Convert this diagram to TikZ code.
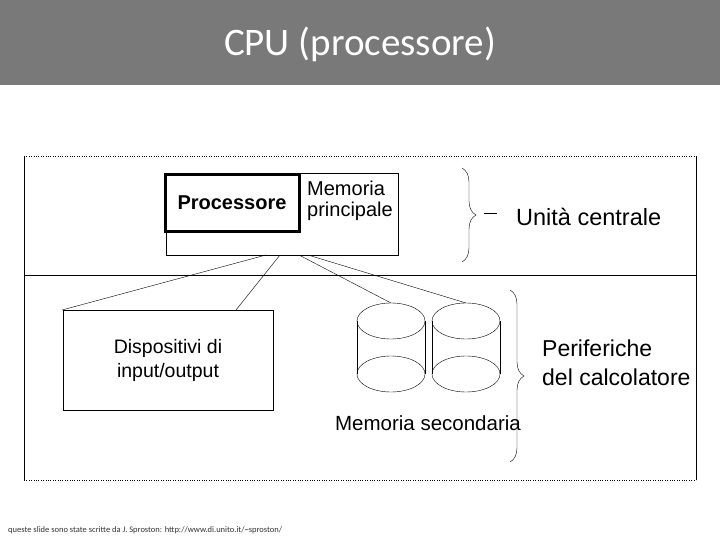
\documentclass[tikz,border=0pt]{standalone}
\usepackage{fontspec}
\setmainfont{Liberation Sans}
\newfontfamily\titlefont{Carlito}
\usetikzlibrary{decorations.pathreplacing,positioning}
\tikzset{
    box/.style={draw,thin,inner sep=0pt},
    label text/.style={align=left,inner sep=0pt},
    link/.style={thin},
    curly/.style={decorate,decoration={brace,amplitude=14pt},thin}
}
\begin{document}
\begin{tikzpicture}[x=1pt,y=-1pt]
\useasboundingbox (0,0) rectangle (720,540);

% ========= Title =========
\fill[gray!95!black] (0,0) rectangle (720,85);
\node[text=white,font=\titlefont\fontsize{39}{42}\selectfont] (title) at (360,44) {CPU (processore)};

% ========= Frame =========
\draw[thin,dotted] (24,156) -- (696,156);
\draw[thin,dotted] (24,480) -- (696,480);
\draw[thin] (24,156) -- (24,480) (696,156) -- (696,480);
\draw[semithick] (24,275) -- (696,275);

% ========= Unita centrale =========
\node[box,minimum width=232pt,minimum height=82pt] (central) at (282,214) {};
\node[box,line width=3pt,minimum width=134pt,minimum height=57pt] (cpu) at (232,203)
    {\fontsize{20}{23}\selectfont\bfseries Processore};
\node[label text,anchor=west,font=\fontsize{20}{21}\selectfont] (mem) at (307,201) {Memoria\\principale};
\coordinate (bus a) at (266,255);
\coordinate (bus b) at (280,255);
\coordinate (bus c) at (299,255);
\coordinate (bus d) at (308,255);

% ========= Periferiche =========
\node[box,minimum width=210pt,minimum height=100pt,align=center,font=\fontsize{19.5}{24}\selectfont] (io) at (168,360)
    {Dispositivi di\\input/output};
\foreach \name/\cx in {disk1/391,disk2/466}
{
    \draw[thin] (\cx,321) ellipse (34 and 18);
    \draw[thin] (\cx,374) ellipse (34 and 18);
    \draw[thin] (\cx-34,321) -- (\cx-34,374) (\cx+34,321) -- (\cx+34,374);
    \coordinate (\name) at (\cx,303);
}
\node[label text,font=\fontsize{20.5}{23}\selectfont] (sec) at (428,423) {Memoria secondaria};

% ========= Connections =========
\draw[link] (bus a) -- (62,310);
\draw[link] (bus b) -- (236,310);
\draw[link] (bus c) -- (disk1);
\draw[link] (bus d) -- (disk2);

% ========= Braces =========
\draw[curly] (462,168) -- (462,262);
\draw[thin] (484,213) -- (497,213);
\node[label text,font=\fontsize{23.5}{26}\selectfont,anchor=west] (uc) at (516,217) {Unità centrale};
\draw[curly] (510,290) -- (510,462);
\node[label text,font=\fontsize{23}{29}\selectfont,anchor=west] (per) at (542,363) {Periferiche\\del calcolatore};

% ========= Footer =========
\node[anchor=west,inner sep=0pt,font=\titlefont\fontsize{8.5}{9}\selectfont,text=black!80] (foot) at (8,530)
    {queste slide sono state scritte da J. Sproston: http://www.di.unito.it/\textasciitilde sproston/};
\end{tikzpicture}
\end{document}
